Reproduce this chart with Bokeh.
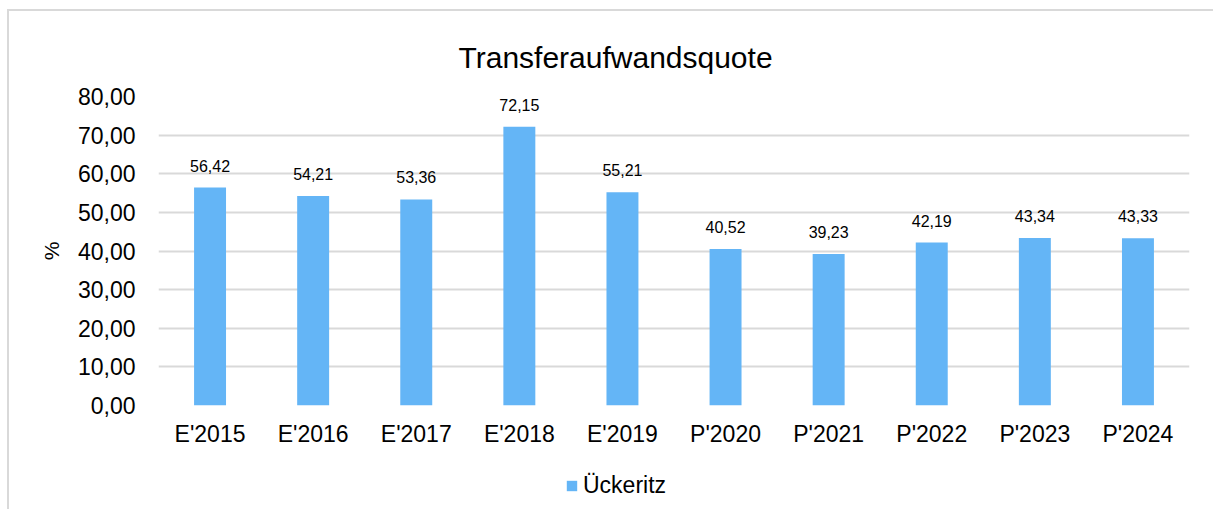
from bokeh.plotting import figure
from bokeh.layouts import column
from bokeh.models import ColumnDataSource, FactorRange, Range1d, Legend, LegendItem, CustomJSTickFormatter, Label
from bokeh.core.properties import value
from bokeh.embed import file_html
from bokeh.resources import INLINE

categories = ["E'2015", "E'2016", "E'2017", "E'2018", "E'2019",
              "P'2020", "P'2021", "P'2022", "P'2023", "P'2024"]
values = [56.42, 54.21, 53.36, 72.15, 55.21, 40.52, 39.23, 42.19, 43.34, 43.33]
series_name = "Ückeritz"
title_text = "Transferaufwandsquote"
y_label = "%"

FONT = "Liberation Sans"
BAR = "#64B5F6"
GRID = "#d9d9d9"

labels = [f"{v:.2f}".replace(".", ",") for v in values]
src = ColumnDataSource(dict(cat=categories, val=values, lab=labels))

W = 1204


def strip(h):
    f = figure(x_range=Range1d(0, 1), y_range=Range1d(0, h), width=W, height=h,
               output_backend="svg", toolbar_location=None,
               min_border_left=0, min_border_right=0, min_border_top=0, min_border_bottom=0)
    f.axis.visible = False
    f.grid.visible = False
    f.outline_line_color = None
    f.background_fill_color = "white"
    f.border_fill_color = "white"
    return f


# title strip
ts = strip(65)
ts.add_layout(Label(x=0, y=19, x_offset=300, text=title_text, text_font=FONT,
                    text_font_size="30px", text_color="#000000",
                    text_align="left", text_baseline="alphabetic"))

# main chart
p = figure(x_range=FactorRange(*categories), y_range=Range1d(0, 80),
           width=W, height=380, output_backend="svg", toolbar_location=None,
           min_border_left=149, min_border_right=24, min_border_top=20, min_border_bottom=51)
p.outline_line_color = None
p.background_fill_color = "white"
p.border_fill_color = "white"

r = p.vbar(x="cat", top="val", width=0.31, source=src, fill_color=BAR, line_color=None)
p.text(x="cat", y="val", text="lab", source=src, text_font=value(FONT), text_font_size="16px",
       text_align="center", text_baseline="middle", y_offset=-22, text_color="#000000")

p.xgrid.grid_line_color = None
p.ygrid.grid_line_color = GRID
p.ygrid.grid_line_width = 2
p.yaxis.ticker = [0, 10, 20, 30, 40, 50, 60, 70, 80]
p.yaxis.formatter = CustomJSTickFormatter(code="return tick.toFixed(2).replace('.', ',');")

for ax in (p.xaxis[0], p.yaxis[0]):
    ax.axis_line_color = None
    ax.major_tick_line_color = None
    ax.minor_tick_line_color = None
    ax.major_label_text_font = FONT
    ax.major_label_text_font_size = "23px"
    ax.major_label_text_color = "#000000"

p.xaxis.major_label_standoff = 9
p.yaxis.major_label_standoff = 17
p.yaxis.axis_label = y_label
p.yaxis.axis_label_text_font = FONT
p.yaxis.axis_label_text_font_size = "21px"
p.yaxis.axis_label_text_font_style = "normal"
p.yaxis.axis_label_text_color = "#000000"
p.yaxis.axis_label_standoff = 12

# legend strip below the chart (its single bar lies outside the visible range)
lg = strip(53)
swatch = ColumnDataSource(dict(x=[-5.0], top=[-5.0]))
lr = lg.vbar(x="x", top="top", bottom=-6.0, width=0.3, source=swatch, fill_color=BAR, line_color=None)
legend = Legend(items=[LegendItem(label=series_name, renderers=[lr])], location=(407, 10),
                orientation="horizontal", padding=0, margin=0, spacing=0,
                glyph_width=13, glyph_height=13, label_standoff=5,
                label_text_font=FONT, label_text_font_size="23px", label_text_color="#000000",
                border_line_color=None, background_fill_alpha=0)
lg.add_layout(legend, "center")

layout = column(ts, p, lg, spacing=0)
layout.styles = {"border-left": "2px solid #d9d9d9", "border-top": "2px solid #d9d9d9",
                 "margin-top": "9px", "margin-left": "7px"}

open("out.html", "w").write(file_html(layout, INLINE))
